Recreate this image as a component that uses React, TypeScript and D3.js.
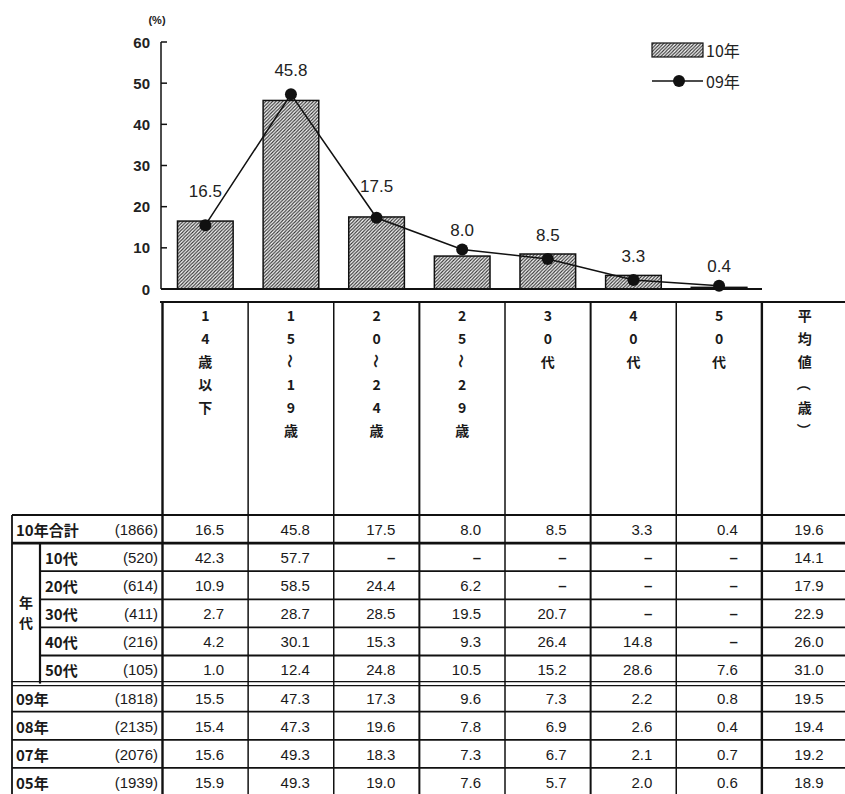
import React from 'react';
import * as d3 from 'd3';

// ---- data ----
const categories = ['14歳以下', '15～19歳', '20～24歳', '25～29歳', '30代', '40代', '50代'];
const tableColumns = [...categories, '平均値（歳）'];
const values2010 = [16.5, 45.8, 17.5, 8.0, 8.5, 3.3, 0.4];
const values2009 = [15.5, 47.3, 17.3, 9.6, 7.3, 2.2, 0.8];
const yTicks = [0, 10, 20, 30, 40, 50, 60];
const legendLabels = ['10年', '09年'];

const rowLabels = ['10年合計', '10代', '20代', '30代', '40代', '50代', '09年', '08年', '07年', '05年'];
const rowCounts = [1866, 520, 614, 411, 216, 105, 1818, 2135, 2076, 1939];
const row10Total = [16.5, 45.8, 17.5, 8.0, 8.5, 3.3, 0.4, 19.6];
const row10s = [42.3, 57.7, null, null, null, null, null, 14.1];
const row20s = [10.9, 58.5, 24.4, 6.2, null, null, null, 17.9];
const row30s = [2.7, 28.7, 28.5, 19.5, 20.7, null, null, 22.9];
const row40s = [4.2, 30.1, 15.3, 9.3, 26.4, 14.8, null, 26.0];
const row50s = [1.0, 12.4, 24.8, 10.5, 15.2, 28.6, 7.6, 31.0];
const row09 = [15.5, 47.3, 17.3, 9.6, 7.3, 2.2, 0.8, 19.5];
const row08 = [15.4, 47.3, 19.6, 7.8, 6.9, 2.6, 0.4, 19.4];
const row07 = [15.6, 49.3, 18.3, 7.3, 6.7, 2.1, 0.7, 19.2];
const row05 = [15.9, 49.3, 19.0, 7.6, 5.7, 2.0, 0.6, 18.9];
const tableRows = [row10Total, row10s, row20s, row30s, row40s, row50s, row09, row08, row07, row05];
const subRowGroup = '年代';

const W = 845;
const H = 794;
const SANS = '"Liberation Sans", Arial, sans-serif';
const CJK = '"Noto Sans CJK JP", "Liberation Sans", sans-serif';

export default function App() {
  const colScale = d3.scaleBand<string>().domain(tableColumns).range([162.5, 847.5]).padding(0);
  const step = colScale.step();
  const xScale = d3
    .scaleBand<string>()
    .domain(categories)
    .range([162.5, 162.5 + step * categories.length])
    .paddingInner(0.35)
    .paddingOuter(0.175);
  const yScale = d3.scaleLinear().domain([0, 60]).range([289, 42]);
  const rowScale = d3
    .scaleBand<number>()
    .domain(rowLabels.map((_, i) => i))
    .range([515, 796])
    .padding(0);
  const rowStep = rowScale.step();

  const cx = (c: string) => (xScale(c) as number) + xScale.bandwidth() / 2;
  const line = d3
    .line<number>()
    .x((_, i) => cx(categories[i]))
    .y((d) => yScale(d));

  const headerTop = 302;
  const headerBottom = 515;
  const tableBottom = 796;
  const leftEdge = 12;
  const groupEdge = 40;
  const rightEdge = 847.5;

  const labelY = (i: number) => {
    const a = values2010[i];
    const b = values2009[i];
    return a > 15 ? yScale(a) - 30 : Math.min(yScale(a), yScale(b)) - 19;
  };

  const fmt = (v: number | null) => (v === null ? '–' : v.toFixed(1));

  return (
    <svg
      width={W}
      height={H}
      viewBox={`0 0 ${W} ${H}`}
      style={{ position: 'absolute', left: 0, top: 0, background: '#fff' }}
    >
      <defs>
        <pattern id="hatch" patternUnits="userSpaceOnUse" width="3.4" height="3.4">
          <rect width="3.4" height="3.4" fill="#fafafa" />
          <path d="M-1,1 l2,-2 M0,3.4 l3.4,-3.4 M2.4,4.4 l2,-2" stroke="#333" strokeWidth="1.1" />
        </pattern>
      </defs>
      <rect width={W} height={H} fill="#fff" />

      {/* unit */}
      <text x={157} y={20} fontFamily={SANS} fontSize={11} fontWeight="bold" textAnchor="middle" dominantBaseline="central" fill="#222">
        (%)
      </text>

      {/* y axis */}
      <line x1={161} x2={161} y1={yScale(60)} y2={yScale(0)} stroke="#111" strokeWidth={1.5} />
      {yTicks.map((t) => (
        <g key={t}>
          <line x1={161} x2={167} y1={yScale(t)} y2={yScale(t)} stroke="#111" strokeWidth={1.5} />
          <text x={150} y={yScale(t)} fontFamily={SANS} fontSize={15} fontWeight="bold" textAnchor="end" dominantBaseline="central" fill="#222">
            {t}
          </text>
        </g>
      ))}

      {/* bars */}
      {categories.map((c, i) => (
        <rect
          key={c}
          x={xScale(c)}
          y={yScale(values2010[i])}
          width={xScale.bandwidth()}
          height={yScale(0) - yScale(values2010[i])}
          fill="url(#hatch)"
          stroke="#111"
          strokeWidth={1.5}
        />
      ))}
      {/* x axis */}
      <line x1={161} x2={762} y1={yScale(0)} y2={yScale(0)} stroke="#111" strokeWidth={1.8} />

      {/* 09 line */}
      <path d={line(values2009) || ''} fill="none" stroke="#111" strokeWidth={1.5} />
      {values2009.map((v, i) => (
        <circle key={i} cx={cx(categories[i])} cy={yScale(v)} r={6} fill="#111" />
      ))}

      {/* value labels */}
      {values2010.map((v, i) => (
        <text
          key={i}
          x={cx(categories[i])}
          y={labelY(i)}
          fontFamily={SANS}
          fontSize={17}
          textAnchor="middle"
          dominantBaseline="central"
          fill="#222"
        >
          {v.toFixed(1)}
        </text>
      ))}

      {/* legend */}
      <rect x={652} y={43} width={51} height={14} fill="url(#hatch)" stroke="#111" strokeWidth={1.2} />
      <text x={706} y={50} fontFamily={CJK} fontSize={16} dominantBaseline="central" fill="#222">
        {legendLabels[0]}
      </text>
      <line x1={652} x2={703} y1={81} y2={81} stroke="#111" strokeWidth={1.5} />
      <circle cx={679} cy={81} r={6} fill="#111" />
      <text x={706} y={81} fontFamily={CJK} fontSize={16} dominantBaseline="central" fill="#222">
        {legendLabels[1]}
      </text>

      {/* table header */}
      <line x1={160} x2={rightEdge} y1={headerTop} y2={headerTop} stroke="#111" strokeWidth={2.2} />
      {tableColumns.map((c) => {
        const x0 = colScale(c) as number;
        const mid = x0 + step / 2;
        return (
          <g key={c}>
            {Array.from(c).map((ch, k) => {
              const yy = 315 + k * 23;
              const rotate = ch === '～' || ch === '（' || ch === '）';
              return (
                <text
                  key={k}
                  x={mid}
                  y={yy}
                  fontFamily={CJK}
                  fontSize={14}
                  fontWeight="bold"
                  textAnchor="middle"
                  dominantBaseline="central"
                  fill="#1a1a1a"
                  transform={rotate ? `rotate(90 ${mid} ${yy})` : undefined}
                >
                  {ch}
                </text>
              );
            })}
          </g>
        );
      })}
      {/* vertical column lines */}
      {tableColumns.map((c, i) => {
        const x0 = colScale(c) as number;
        return (
          <line
            key={c}
            x1={x0}
            x2={x0}
            y1={headerTop}
            y2={tableBottom}
            stroke="#111"
            strokeWidth={i === 0 || i === 7 ? 2.4 : i === 3 || i === 5 ? 2 : 1.5}
          />
        );
      })}
      <line x1={rightEdge - 1} x2={rightEdge - 1} y1={headerTop} y2={tableBottom} stroke="#111" strokeWidth={2} />

      {/* table body frame */}
      <line x1={leftEdge} x2={rightEdge} y1={headerBottom} y2={headerBottom} stroke="#111" strokeWidth={2} />
      <line x1={leftEdge} x2={leftEdge} y1={headerBottom} y2={tableBottom} stroke="#111" strokeWidth={1.8} />
      <line
        x1={groupEdge}
        x2={groupEdge}
        y1={rowScale(1) as number}
        y2={rowScale(6) as number}
        stroke="#111"
        strokeWidth={2.2}
      />
      {rowLabels.map((_, i) => {
        if (i === 0) return null;
        const y = rowScale(i) as number;
        const sub = i >= 2 && i <= 5;
        if (i === 6) {
          return (
            <g key={i}>
              <line x1={leftEdge} x2={rightEdge} y1={y - 2} y2={y - 2} stroke="#111" strokeWidth={1.3} />
              <line x1={leftEdge} x2={rightEdge} y1={y + 2} y2={y + 2} stroke="#111" strokeWidth={1.3} />
            </g>
          );
        }
        return (
          <line
            key={i}
            x1={sub ? groupEdge : leftEdge}
            x2={rightEdge}
            y1={y}
            y2={y}
            stroke="#111"
            strokeWidth={i === 1 ? 2.6 : 1.8}
          />
        );
      })}

      {/* group label */}
      {Array.from(subRowGroup).map((ch, k) => (
        <text
          key={k}
          x={(leftEdge + groupEdge) / 2}
          y={602 + k * 20}
          fontFamily={CJK}
          fontSize={14}
          fontWeight="bold"
          textAnchor="middle"
          dominantBaseline="central"
          fill="#1a1a1a"
        >
          {ch}
        </text>
      ))}

      {/* row labels and values */}
      {rowLabels.map((lab, i) => {
        const yMid = (rowScale(i) as number) + rowStep / 2 + (i >= 6 ? 1 : 0);
        const sub = i >= 1 && i <= 5;
        return (
          <g key={lab}>
            <text
              x={sub ? 45 : 16}
              y={yMid}
              fontFamily={CJK}
              fontSize={15}
              fontWeight="bold"
              dominantBaseline="central"
              fill="#1a1a1a"
            >
              {lab}
            </text>
            <text
              x={158}
              y={yMid}
              fontFamily={SANS}
              fontSize={15}
              textAnchor="end"
              dominantBaseline="central"
              fill="#1a1a1a"
            >
              ({rowCounts[i]})
            </text>
            {tableRows[i].map((v, j) => {
              const right = (colScale(tableColumns[j]) as number) + step - 24;
              return (
                <text
                  key={j}
                  x={right}
                  y={yMid}
                  fontFamily={SANS}
                  fontSize={15}
                  fontWeight={v === null ? 'bold' : 'normal'}
                  textAnchor="end"
                  dominantBaseline="central"
                  fill="#1a1a1a"
                >
                  {fmt(v)}
                </text>
              );
            })}
          </g>
        );
      })}
    </svg>
  );
}
